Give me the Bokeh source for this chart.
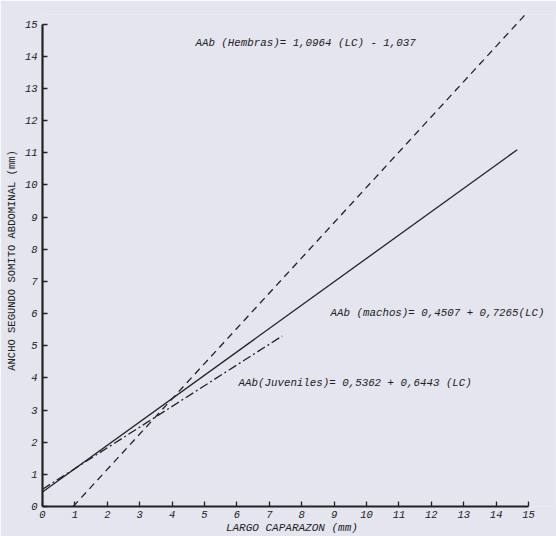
from bokeh.plotting import figure
from bokeh.models import Range1d, FixedTicker, Label
from bokeh.embed import file_html
from bokeh.resources import INLINE

# Regression data (intercept, slope) and fitted x-extent for each group
groups = ["Hembras", "machos", "Juveniles"]
intercepts = [-1.037, 0.4507, 0.5362]
slopes = [1.0964, 0.7265, 0.6443]
x_start = [0.946, 0.0, 0.0]
x_end = [14.95, 14.65, 7.4]
dashes = ["7 5", "solid", "9 3 2 3"]

eq_labels = [
    "AAb (Hembras)= 1,0964 (LC) - 1,037",
    "AAb (machos)= 0,4507 + 0,7265(LC)",
    "AAb(Juveniles)= 0,5362 + 0,6443 (LC)",
]
label_x = [4.72, 8.89, 6.05]
label_y = [14.41, 6.02, 3.85]

x_ticks = list(range(0, 16))
y_ticks = list(range(0, 16))

BG = "#e4e5ee"
INK = "#222222"
FONT = "Liberation Mono"

p = figure(width=556, height=536, output_backend="svg", toolbar_location=None,
           x_range=Range1d(0, 15.8), y_range=Range1d(0, 15.3),
           min_border_left=42, min_border_right=2, min_border_top=14, min_border_bottom=29)
p.background_fill_color = BG
p.border_fill_color = BG
p.outline_line_color = None
p.grid.visible = False

for ax, ticks in ((p.xaxis, x_ticks), (p.yaxis, y_ticks)):
    ax.ticker = FixedTicker(ticks=ticks)
    ax.bounds = (0, 15)
    ax.minor_tick_line_color = None
    ax.major_tick_in = 5
    ax.major_tick_out = 0
    ax.axis_line_width = 2.2
    ax.axis_line_color = INK
    ax.major_tick_line_color = INK
    ax.major_tick_line_width = 1.3
    ax.major_label_text_font = FONT
    ax.major_label_text_font_style = "italic"
    ax.major_label_text_font_size = "10.5px"
    ax.major_label_text_color = INK
    ax.axis_label_text_font = FONT
    ax.axis_label_text_color = INK
p.xaxis.major_label_standoff = 4
p.yaxis.major_label_standoff = 5
p.xaxis.axis_label = "LARGO  CAPARAZON  (mm)"
p.yaxis.axis_label = "ANCHO SEGUNDO SOMITO ABDOMINAL (mm)"
p.xaxis.axis_label_text_font_style = "italic"
p.yaxis.axis_label_text_font_style = "normal"
p.xaxis.axis_label_text_font_size = "11px"
p.yaxis.axis_label_text_font_size = "10.5px"
p.xaxis.axis_label_standoff = 1
p.yaxis.axis_label_standoff = 4

for a, b, x0, x1, d in zip(intercepts, slopes, x_start, x_end, dashes):
    xs = [x0, x1]
    ys = [a + b * x for x in xs]
    p.line(xs, ys, line_color=INK, line_width=1.3, line_dash=d)

for t, lx, ly in zip(eq_labels, label_x, label_y):
    p.add_layout(Label(x=lx, y=ly, text=t, text_font=FONT, text_font_style="italic",
                       text_font_size="10.8px", text_color=INK, text_baseline="middle"))

open("out.html", "w").write(file_html(p, INLINE))
